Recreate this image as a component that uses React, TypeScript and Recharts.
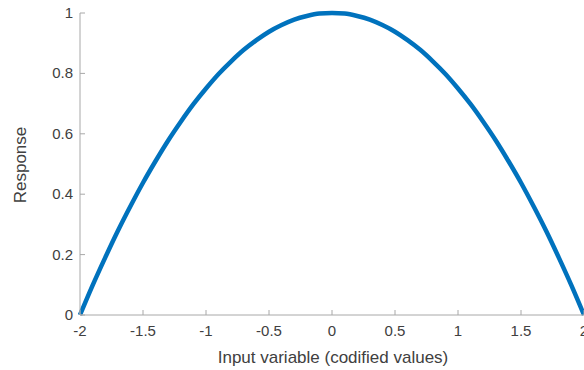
import React from 'react';
import { LineChart, Line, XAxis, YAxis } from 'recharts';

const xValues = [-2, -1.9, -1.8, -1.7, -1.6, -1.5, -1.4, -1.3, -1.2, -1.1, -1, -0.9, -0.8, -0.7, -0.6, -0.5, -0.4, -0.3, -0.2, -0.1, 0, 0.1, 0.2, 0.3, 0.4, 0.5, 0.6, 0.7, 0.8, 0.9, 1, 1.1, 1.2, 1.3, 1.4, 1.5, 1.6, 1.7, 1.8, 1.9, 2];
const responseValues = [0, 0.098, 0.19, 0.278, 0.36, 0.438, 0.51, 0.578, 0.64, 0.698, 0.75, 0.798, 0.84, 0.878, 0.91, 0.938, 0.96, 0.978, 0.99, 0.998, 1, 0.998, 0.99, 0.978, 0.96, 0.938, 0.91, 0.878, 0.84, 0.798, 0.75, 0.698, 0.64, 0.578, 0.51, 0.438, 0.36, 0.278, 0.19, 0.098, 0];
const xTicks = [-2, -1.5, -1, -0.5, 0, 0.5, 1, 1.5, 2];
const yTicks = [0, 0.2, 0.4, 0.6, 0.8, 1];
const xTickLabels = ['-2', '-1.5', '-1', '-0.5', '0', '0.5', '1', '1.5', '2'];
const yTickLabels = ['0', '0.2', '0.4', '0.6', '0.8', '1'];

const data = xValues.map((x, i) => ({ x, y: responseValues[i] }));

const AXIS = '#a8a8a8';
const TEXT = '#404040';
const FONT = '"Liberation Sans", Arial, Helvetica, sans-serif';

const BottomTick = (props: any) => {
  const { x, y, payload } = props;
  const idx = xTicks.indexOf(payload.value);
  return (
    <g>
      <line x1={x} y1={y} x2={x} y2={y - 5} stroke={AXIS} strokeWidth={1} />
      <text x={x} y={y + 21} textAnchor="middle" fill={TEXT} fontSize={15} fontFamily={FONT}>
        {idx >= 0 ? xTickLabels[idx] : payload.value}
      </text>
    </g>
  );
};

const TopTick = (props: any) => {
  const { x, y } = props;
  return <line x1={x} y1={y} x2={x} y2={y + 5} stroke={AXIS} strokeWidth={1} />;
};

const LeftTick = (props: any) => {
  const { x, y, payload } = props;
  const idx = yTicks.indexOf(payload.value);
  return (
    <g>
      <line x1={x + 7} y1={y} x2={x + 12} y2={y} stroke={AXIS} strokeWidth={1} />
      <text x={x} y={y + 5} textAnchor="end" fill={TEXT} fontSize={15} fontFamily={FONT}>
        {idx >= 0 ? yTickLabels[idx] : payload.value}
      </text>
    </g>
  );
};

export default function App() {
  return (
    <div style={{ position: 'absolute', left: 0, top: 0, width: 584, height: 370, overflow: 'hidden', background: '#fff' }}>
      <LineChart width={600} height={370} data={data} margin={{ top: 13, right: 16, left: 0, bottom: 0 }}>
        <XAxis
          dataKey="x"
          type="number"
          domain={[-2, 2]}
          ticks={xTicks}
          height={55}
          tickSize={0}
          tickMargin={0}
          tickLine={false}
          axisLine={{ stroke: AXIS }}
          tick={<BottomTick />}
          interval={0}
          label={{
            content: () => (
              <text x={333} y={363} textAnchor="middle" fill={TEXT} fontSize={17} fontFamily={FONT}>
                Input variable (codified values)
              </text>
            ),
          }}
        />
        <XAxis
          xAxisId="top"
          orientation="top"
          dataKey="x"
          type="number"
          domain={[-2, 2]}
          ticks={xTicks}
          height={0}
          tickSize={0}
          tickMargin={0}
          tickLine={false}
          axisLine={{ stroke: AXIS }}
          tick={<TopTick />}
          interval={0}
        />
        <YAxis
          type="number"
          domain={[0, 1]}
          ticks={yTicks}
          width={80}
          tickSize={0}
          tickMargin={7}
          tickLine={false}
          axisLine={{ stroke: AXIS }}
          tick={<LeftTick />}
          interval={0}
          label={{
            content: () => (
              <text x={26} y={165} transform="rotate(-90 26 165)" textAnchor="middle" fill={TEXT} fontSize={17} fontFamily={FONT}>
                Response
              </text>
            ),
          }}
        />
        <Line
          type="monotone"
          dataKey="y"
          stroke="#0072BD"
          strokeWidth={4.5}
          dot={false}
          isAnimationActive={false}
        />
      </LineChart>
    </div>
  );
}
